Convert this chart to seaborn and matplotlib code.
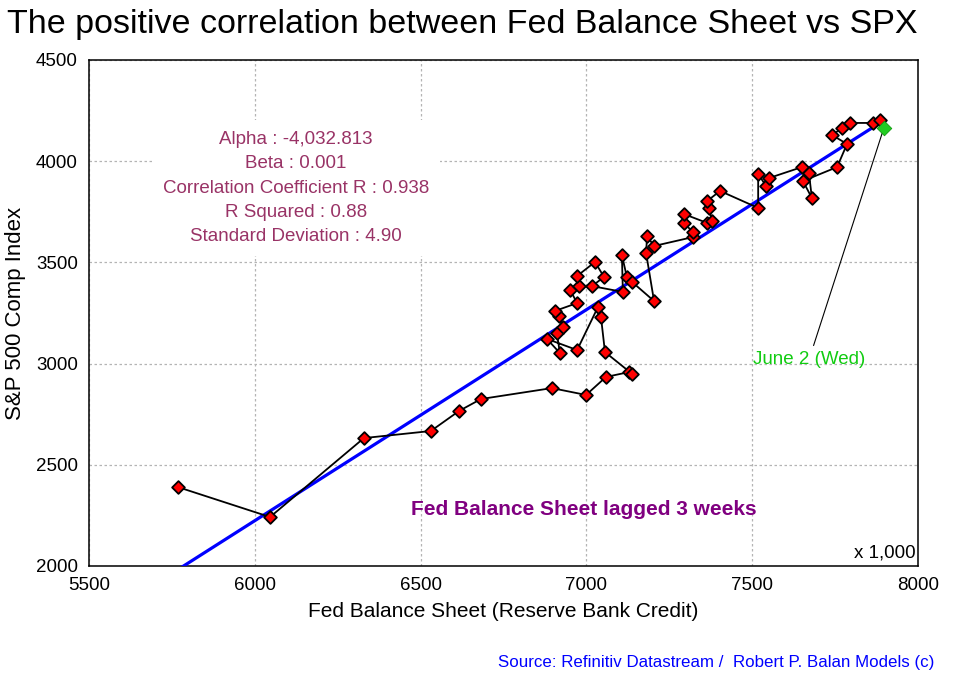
import numpy as np
import pandas as pd
import seaborn as sns
import matplotlib
matplotlib.use("Agg")
import matplotlib.pyplot as plt
from matplotlib.ticker import MultipleLocator

# ---- data (Fed balance sheet lagged 3 weeks, x1000 ; SPX) ----
fed = [5768, 6046, 6329, 6531, 6616, 6682, 6896, 6999, 7059, 7128,
       7138, 7056, 7044, 7035, 6972, 6881, 6920, 6911, 6929, 6917,
       6905, 6972, 6951, 6978, 6972, 7026, 7053, 7017, 7110, 7107,
       7122, 7138, 7204, 7180, 7183, 7204, 7321, 7321, 7294, 7294,
       7364, 7379, 7370, 7364, 7403, 7518, 7518, 7542, 7551, 7650,
       7671, 7680, 7653, 7756, 7786, 7741, 7771, 7795, 7864, 7885]
spx = [2390, 2242, 2632, 2667, 2766, 2825, 2879, 2845, 2934, 2958,
       2949, 3057, 3230, 3280, 3067, 3122, 3052, 3151, 3181, 3235,
       3260, 3299, 3364, 3383, 3433, 3502, 3428, 3383, 3354, 3537,
       3428, 3403, 3309, 3546, 3630, 3581, 3625, 3650, 3695, 3739,
       3695, 3705, 3769, 3803, 3853, 3769, 3937, 3877, 3917, 3971,
       3942, 3818, 3902, 3971, 4085, 4129, 4164, 4189, 4189, 4204]
last_fed = [7897]
last_spx = [4164]
last_label = "June 2 (Wed)"

stats_lines = ["Alpha : -4,032.813", "Beta : 0.001",
               "Correlation Coefficient R : 0.938", "R Squared : 0.88",
               "Standard Deviation : 4.90"]

df = pd.DataFrame({"fed": fed, "spx": spx})

sns.set_style("white")
plt.rcParams["font.family"] = ["Liberation Sans", "DejaVu Sans"]
plt.rcParams["text.color"] = "black"
plt.rcParams["axes.labelcolor"] = "black"
plt.rcParams["xtick.color"] = "black"
plt.rcParams["ytick.color"] = "black"

fig = plt.figure(figsize=(9.54, 6.73), dpi=100)
ax = fig.add_axes([89 / 954, 1 - 566 / 673, (918 - 89) / 954, (566 - 60) / 673])

# regression line
sns.regplot(data=df, x="fed", y="spx", scatter=False, ci=None, truncate=True,
            color="#0000ff", line_kws={"lw": 2.3, "zorder": 3}, ax=ax)

# path
sns.lineplot(data=df, x="fed", y="spx", sort=False, estimator=None,
             color="black", lw=1.3, ax=ax, zorder=4)
sns.scatterplot(data=df, x="fed", y="spx", marker="D", s=42, color="#ff0000",
                edgecolor="black", linewidth=1.3, ax=ax, zorder=5)
sns.scatterplot(x=last_fed, y=last_spx, marker="D", s=55, color="#22cc22",
                edgecolor="#119911", linewidth=0.6, ax=ax, zorder=6)

ax.annotate(last_label, xy=(last_fed[0], last_spx[0]), xytext=(7671, 3018),
            textcoords="data", ha="center", va="center", color="#11cc11",
            fontsize=13.5,
            arrowprops=dict(arrowstyle="-", color="black", lw=0.8,
                            shrinkA=2, shrinkB=4))

ax.set_xlim(5500, 8000)
ax.set_ylim(2000, 4500)
ax.xaxis.set_major_locator(MultipleLocator(500))
ax.yaxis.set_major_locator(MultipleLocator(500))
ax.xaxis.set_minor_locator(MultipleLocator(100))
ax.yaxis.set_minor_locator(MultipleLocator(100))
ax.tick_params(which="both", direction="out", length=4, width=1, color="black",
               labelcolor="black", top=False, right=False, labelsize=13.5, pad=4)
ax.tick_params(which="minor", length=4)
ax.grid(True, which="major", color="#b4b4b4", linestyle=(0, (2, 2)), lw=0.9)
for s in ax.spines.values():
    s.set_color("black")
    s.set_linewidth(1.1)

ax.set_xlabel("Fed Balance Sheet (Reserve Bank Credit)", fontsize=15,
              labelpad=6, color="black")
ax.set_ylabel("S&P 500 Comp Index", fontsize=16, labelpad=7, color="black")

ax.text(0.2497, 0.747, "\n".join(stats_lines), transform=ax.transAxes,
        ha="center", va="center", fontsize=13.5, color="#993366",
        multialignment="center", linespacing=1.56, zorder=7,
        bbox=dict(boxstyle="square,pad=0.6", facecolor="white", edgecolor="none"))

ax.text(0.597, 0.1107, "Fed Balance Sheet lagged 3 weeks", transform=ax.transAxes,
        ha="center", va="center", fontsize=15, fontweight="bold", color="#800080")
ax.text(0.9976, 0.0257, "x 1,000", transform=ax.transAxes, ha="right",
        va="center", fontsize=13.5, color="black")

fig.text(462 / 954, 1 - 25 / 673,
         "The positive correlation between Fed Balance Sheet vs SPX",
         ha="center", va="center", fontsize=24.5, color="black")
fig.text(934 / 954, 1 - 663 / 673,
         "Source: Refinitiv Datastream /  Robert P. Balan Models (c)",
         ha="right", va="center", fontsize=12.2, color="#0000ff")

fig.savefig("out.png", dpi=100)
